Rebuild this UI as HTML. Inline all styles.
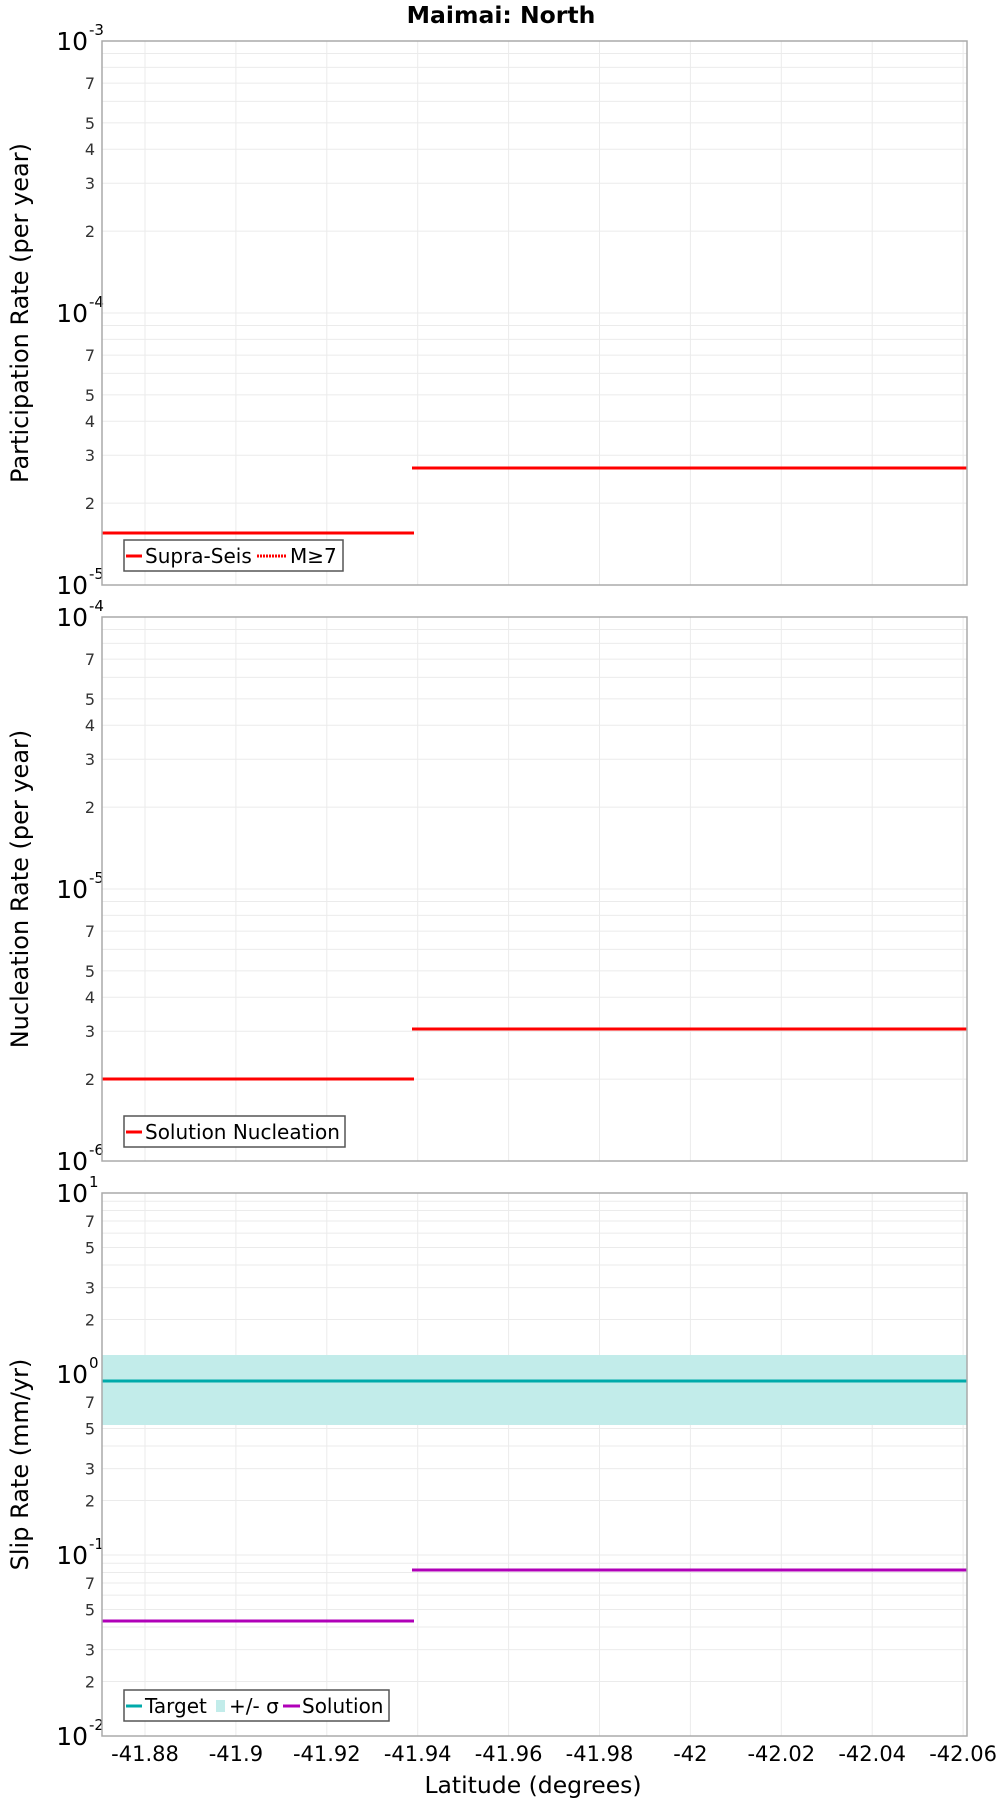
<!DOCTYPE html>
<html><head><meta charset="utf-8"><style>
body{margin:0;background:#fff}
svg{display:block;font-family:"DejaVu Sans","Liberation Sans",sans-serif}
</style></head><body>
<svg id="s" width="1000" height="1800" xmlns="http://www.w3.org/2000/svg"></svg>
<script>
const S=document.getElementById('s');let h='';
const L=102,R=967;
const xp=v=>145+(-41.88-v)/0.02*90.9;
h+='<text x="501" y="23" font-size="23.5" font-weight="bold" text-anchor="middle">Maimai: North</text>';
function panel(top,bot,emax,nd,minors,ylabel,series,legend,band){
  const dec=(bot-top)/nd;
  const yp=v=>top+(emax-Math.log10(v))*dec;
  for(let i=0;i<10;i++){const x=xp(-41.88-0.02*i);h+=`<line x1="${x}" y1="${top}" x2="${x}" y2="${bot}" stroke="#ebebeb" stroke-width="1"/>`;}
  for(let e=emax-nd;e<emax;e++){for(let m=1;m<=9;m++){const y=yp(m*Math.pow(10,e));
    h+=`<line x1="${L}" y1="${y}" x2="${R}" y2="${y}" stroke="#ebebeb" stroke-width="1"/>`;
    if(m>1&&minors.includes(m))h+=`<text x="95" y="${y+6}" font-size="16" fill="#333" text-anchor="end">${m}</text>`;}}
  for(let e=emax-nd;e<=emax;e++){const y=yp(Math.pow(10,e));
    h+=`<text x="88" y="${y+9}" font-size="25" text-anchor="end">10</text><text x="89" y="${y-6}" font-size="15">${e}</text>`;}
  if(band)h+=`<rect x="${L}" y="${band[0]}" width="${R-L}" height="${band[1]-band[0]}" fill="#c2ecea"/>`;
  for(const s of series)h+=`<line x1="${s[0]}" y1="${s[2]}" x2="${s[1]}" y2="${s[2]}" stroke="${s[3]}" stroke-width="3"/>`;
  h+=`<rect x="${L}" y="${top}" width="${R-L}" height="${bot-top}" fill="none" stroke="#aaa" stroke-width="1.5"/>`;
  const cy=(top+bot)/2;
  h+=`<text transform="translate(28,${cy}) rotate(-90)" font-size="24" text-anchor="middle">${ylabel}</text>`;
  h+=legend;
}
panel(41,585,-3,2,[2,3,4,5,7],'Participation Rate (per year)',
 [[L,414,533,'#f00'],[412,R,468,'#f00']],
 `<rect x="124" y="540" width="219" height="31" fill="#fff" stroke="#555" stroke-width="1.5"/>
 <line x1="126" y1="556" x2="142" y2="556" stroke="#f00" stroke-width="3"/>
 <text x="145" y="563" font-size="20">Supra-Seis</text>
 <line x1="257" y1="556" x2="287" y2="556" stroke="#f00" stroke-width="3" stroke-dasharray="2,1"/>
 <text x="290" y="563" font-size="20">M≥7</text>`);
panel(617,1161,-4,2,[2,3,4,5,7],'Nucleation Rate (per year)',
 [[L,414,1079,'#f00'],[412,R,1029,'#f00']],
 `<rect x="124" y="1116" width="221" height="31" fill="#fff" stroke="#555" stroke-width="1.5"/>
 <line x1="126" y1="1132" x2="142" y2="1132" stroke="#f00" stroke-width="3"/>
 <text x="145" y="1139" font-size="20">Solution Nucleation</text>`);
panel(1193,1736,1,3,[2,3,5,7],'Slip Rate (mm/yr)',
 [[L,R,1381,'#00aaaa'],[L,414,1621,'#b000b8'],[412,R,1570,'#b000b8']],
 `<rect x="124" y="1690" width="265" height="31" fill="#fff" stroke="#555" stroke-width="1.5"/>
 <line x1="126" y1="1706" x2="142" y2="1706" stroke="#00aaaa" stroke-width="3"/>
 <text x="145" y="1713" font-size="20">Target</text>
 <rect x="216" y="1700" width="9" height="12" fill="#c2ecea"/>
 <text x="229" y="1713" font-size="20">+/- σ</text>
 <line x1="283" y1="1706" x2="300" y2="1706" stroke="#b000b8" stroke-width="3"/>
 <text x="302" y="1713" font-size="20">Solution</text>`,[1355,1425]);
const lbl=['-41.88','-41.9','-41.92','-41.94','-41.96','-41.98','-42','-42.02','-42.04','-42.06'];
lbl.forEach((t,i)=>{h+=`<text x="${xp(-41.88-0.02*i)}" y="1761" font-size="21" text-anchor="middle">${t}</text>`;});
h+='<text x="533" y="1793" font-size="23.5" text-anchor="middle">Latitude (degrees)</text>';
S.innerHTML=h;
</script>
</body></html>
